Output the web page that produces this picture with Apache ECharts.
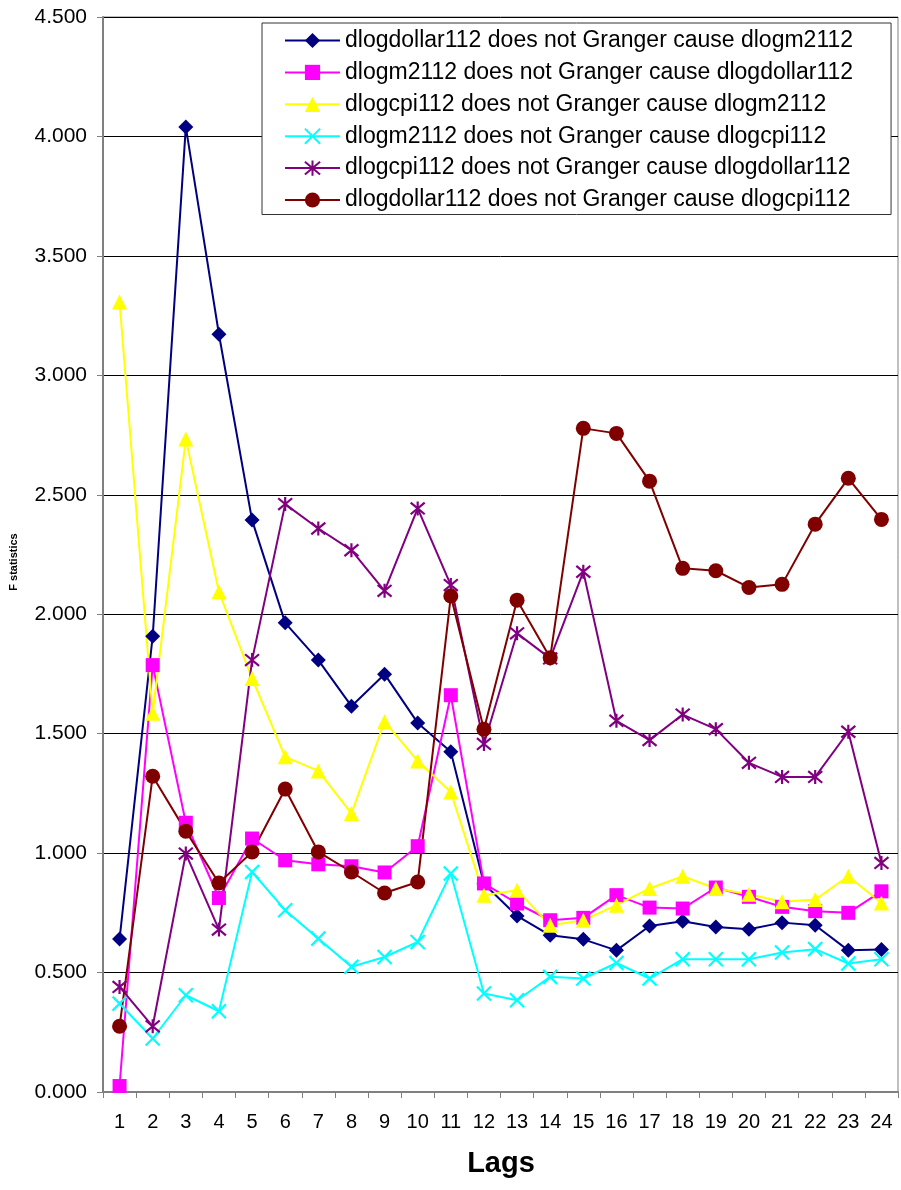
<!DOCTYPE html>
<html>
<head>
<meta charset="utf-8">
<script src="https://cdn.jsdelivr.net/npm/echarts@6/dist/echarts.min.js"></script>
<style>
  html, body { margin: 0; padding: 0; background: #fff; }
  #chart { width: 901px; height: 1190px; }
</style>
</head>
<body>
<div id="chart"></div>
<script>
// Lags 1..24
const lags = ['1','2','3','4','5','6','7','8','9','10','11','12','13','14','15','16','17','18','19','20','21','22','23','24'];

// F statistics per lag for each Granger causality test
const dollarToM2 = [0.640, 1.908, 4.040, 3.172, 2.394, 1.964, 1.808, 1.615, 1.749, 1.545, 1.424, 0.872,
                    0.737, 0.656, 0.639, 0.593, 0.695, 0.715, 0.691, 0.681, 0.709, 0.698, 0.593, 0.596];
const m2ToDollar = [0.025, 1.787, 1.127, 0.812, 1.061, 0.970, 0.953, 0.945, 0.919, 1.029, 1.661, 0.873,
                    0.789, 0.719, 0.729, 0.824, 0.772, 0.768, 0.856, 0.817, 0.775, 0.757, 0.750, 0.840];
const cpiToM2 = [3.307, 1.585, 2.733, 2.094, 1.731, 1.403, 1.344, 1.166, 1.550, 1.386, 1.256, 0.824,
                 0.845, 0.698, 0.719, 0.782, 0.852, 0.903, 0.852, 0.828, 0.796, 0.806, 0.903, 0.791];
const m2ToCpi = [0.370, 0.224, 0.405, 0.338, 0.921, 0.761, 0.642, 0.524, 0.565, 0.628, 0.915, 0.412,
                 0.384, 0.482, 0.475, 0.540, 0.475, 0.556, 0.556, 0.556, 0.584, 0.598, 0.538, 0.556];
const cpiToDollar = [0.440, 0.275, 0.998, 0.680, 1.808, 2.461, 2.359, 2.268, 2.098, 2.443, 2.122, 1.457,
                     1.920, 1.815, 2.178, 1.554, 1.473, 1.580, 1.519, 1.378, 1.319, 1.319, 1.508, 0.959];
const dollarToCpi = [0.275, 1.322, 1.092, 0.875, 1.005, 1.268, 1.005, 0.921, 0.833, 0.879, 2.076, 1.518,
                     2.059, 1.818, 2.778, 2.757, 2.557, 2.192, 2.182, 2.112, 2.125, 2.377, 2.569, 2.397];

const seriesNames = [
  'dlogdollar112 does not Granger cause dlogm2112',
  'dlogm2112 does not Granger cause dlogdollar112',
  'dlogcpi112 does not Granger cause dlogm2112',
  'dlogm2112 does not Granger cause dlogcpi112',
  'dlogcpi112 does not Granger cause dlogdollar112',
  'dlogdollar112 does not Granger cause dlogcpi112'
];

const FONT = '"Liberation Sans", Arial, sans-serif';
const crossPath = 'path://M0,0L10,10M10,0L0,10';
const starPath = 'path://M0,0L10,10M10,0L0,10M5,-1L5,11';

function lineSeries(name, data, color, symbol, size, stroked) {
  return {
    name: name,
    type: 'line',
    data: data,
    symbol: symbol,
    symbolSize: size,
    showAllSymbol: true,
    lineStyle: { color: color, width: 2 },
    itemStyle: stroked
      ? { color: 'rgba(0,0,0,0)', borderColor: color, borderWidth: 2.2 }
      : { color: color, borderColor: color, borderWidth: 0 },
    emphasis: { disabled: true },
    animation: false
  };
}

const chart = echarts.init(document.getElementById('chart'), null, { renderer: 'canvas' });
chart.setOption({
  backgroundColor: '#ffffff',
  animation: false,
  textStyle: { fontFamily: FONT },
  grid: {
    left: 103, right: 3, top: 17, bottom: 98,
    show: true, borderColor: '#808080', borderWidth: 1, containLabel: false
  },
  legend: {
    orient: 'vertical',
    left: 262, top: 23,
    padding: [6, 38, 3, 22],
    itemWidth: 55, itemHeight: 19, itemGap: 8.9,
    borderColor: '#333', borderWidth: 1,
    backgroundColor: '#fff',
    textStyle: { fontSize: 23, color: '#000', lineHeight: 20, fontFamily: FONT },
    data: seriesNames
  },
  xAxis: {
    type: 'category',
    data: lags,
    boundaryGap: true,
    axisLine: { lineStyle: { color: '#808080', width: 2 } },
    axisTick: { show: true, length: 6, lineStyle: { color: '#808080', width: 1 } },
    axisLabel: { color: '#000', fontSize: 20, margin: 20, interval: 0 },
    splitLine: { show: false }
  },
  yAxis: {
    type: 'value',
    min: 0, max: 4.5, interval: 0.5,
    axisLine: { show: true, lineStyle: { color: '#808080', width: 2 } },
    axisTick: { show: true, length: 6, lineStyle: { color: '#808080' } },
    axisLabel: { color: '#000', fontSize: 21, margin: 16, formatter: v => v.toFixed(3) },
    splitLine: { show: true, lineStyle: { color: '#000', width: 1 } }
  },
  graphic: [
    {
      type: 'text', x: 501, y: 1149,
      style: { text: 'Lags', font: 'bold 29px ' + FONT, fill: '#000', align: 'center', verticalAlign: 'top' }
    },
    {
      type: 'text', x: 14, y: 562, rotation: Math.PI / 2,
      style: { text: 'F statistics', font: 'bold 11px ' + FONT, fill: '#000', align: 'center', verticalAlign: 'middle' }
    }
  ],
  series: [
    lineSeries(seriesNames[0], dollarToM2, '#000080', 'diamond', 15, false),
    lineSeries(seriesNames[1], m2ToDollar, '#FF00FF', 'rect', 14, false),
    lineSeries(seriesNames[2], cpiToM2, '#FFFF00', 'triangle', 15, false),
    lineSeries(seriesNames[3], m2ToCpi, '#00FFFF', crossPath, 14, true),
    lineSeries(seriesNames[4], cpiToDollar, '#800080', starPath, 14, true),
    lineSeries(seriesNames[5], dollarToCpi, '#800000', 'circle', 15, false)
  ]
});
</script>
</body>
</html>
